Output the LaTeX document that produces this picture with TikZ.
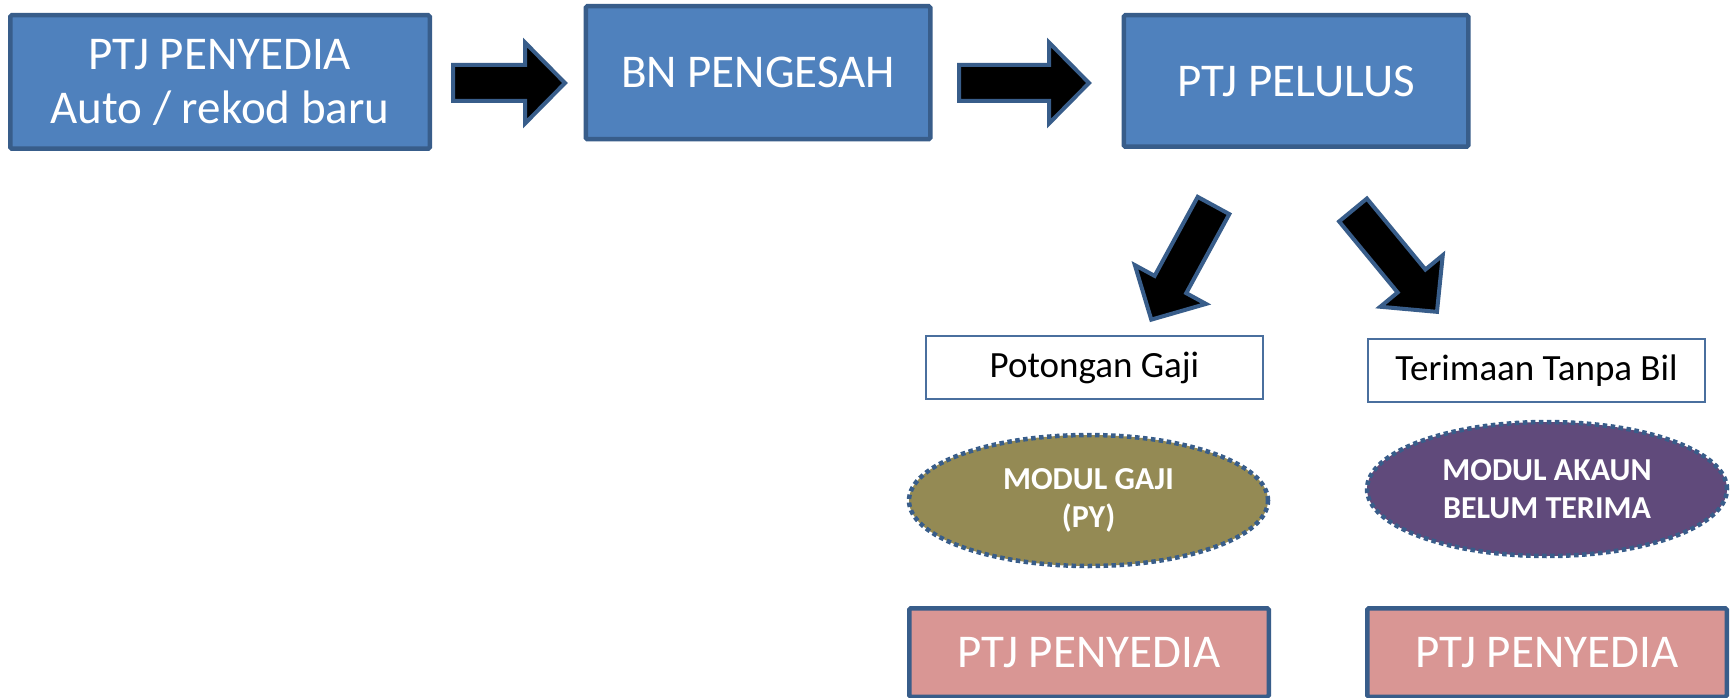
\documentclass[tikz,border=0pt]{standalone}
\usepackage{fontspec}
\setmainfont{Carlito}
\usetikzlibrary{shapes.geometric}
\definecolor{boxblue}{HTML}{4F81BD}
\definecolor{edgeblue}{HTML}{385D8A}
\definecolor{pinkfill}{HTML}{D99694}
\definecolor{olivefill}{HTML}{948A54}
\definecolor{plumfill}{HTML}{604A7B}
\definecolor{thinedge}{HTML}{4A6F9E}
\tikzset{
  bluebox/.style={draw=edgeblue, line width=4.5pt, fill=boxblue, text=white,
    font=\fontsize{47}{54}\selectfont, align=center, rounded corners=1.5pt, inner sep=0pt},
  pinkbox/.style={draw=edgeblue, line width=4.5pt, fill=pinkfill, text=white,
    font=\fontsize{47}{54}\selectfont, align=center, rounded corners=1.5pt, inner sep=0pt,
    minimum width=359.5pt, minimum height=88.5pt},
  labelbox/.style={draw=thinedge, line width=2pt, fill=white, text=black,
    font=\fontsize{37}{44}\selectfont, inner sep=0pt, minimum width=337pt, minimum height=63pt},
  modul/.style={ellipse, draw=edgeblue, line width=4.5pt, dash pattern=on 4.5pt off 3.5pt,
    text=white, font=\bfseries\fontsize{32}{38}\selectfont, align=center, inner sep=0pt},
  arrowshape/.style={draw=edgeblue, line width=4pt, fill=black, line join=miter}
}
\newcommand\blockarr[4]{%
  \begin{scope}[shift={(#1,#2)},rotate=#3]
    \draw[arrowshape] (0,-18) -- ({#4-40},-18) -- ({#4-40},-40.5) -- (#4,0)
      -- ({#4-40},40.5) -- ({#4-40},18) -- (0,18) -- cycle;
  \end{scope}}
\begin{document}
\begin{tikzpicture}[x=1pt,y=-1pt]
  \fill[white] (0,0) rectangle (1733,698);
  \useasboundingbox (0,0) rectangle (1733,698);
  \clip (0,0) rectangle (1733,698);

  \node[bluebox, minimum width=419.5pt, minimum height=133.5pt] (p1) at (220,82)
    {PTJ PENYEDIA\\Auto / rekod baru};
  \node[bluebox, minimum width=344.5pt, minimum height=133pt] (bn) at (758,72.75)
    {BN PENGESAH};
  \node[bluebox, minimum width=344.5pt, minimum height=131.5pt] (pel) at (1296,81)
    {PTJ PELULUS};

  \node[labelbox] (potong) at (1094.5,367.5) {Potongan Gaji};
  \node[labelbox] (terima) at (1536.5,370.5) {Terimaan Tanpa Bil};

  \node[modul, fill=olivefill, minimum width=359pt, minimum height=131pt] (gaji) at (1088.5,500.5)
    {MODUL GAJI\\(PY)};
  \node[modul, fill=plumfill, minimum width=360pt, minimum height=134pt] (akaun) at (1547,489)
    {MODUL AKAUN\\BELUM TERIMA};

  \node[pinkbox] (pen1) at (1089,652.5) {PTJ PENYEDIA};
  \node[pinkbox] (pen2) at (1547,652.5) {PTJ PENYEDIA};

  \blockarr{453}{83}{0}{112}
  \blockarr{959}{83}{0}{130}
  \blockarr{1213.5}{205.5}{241.4}{130}
  \blockarr{1353}{210}{-50.5}{132}
\end{tikzpicture}
\end{document}
